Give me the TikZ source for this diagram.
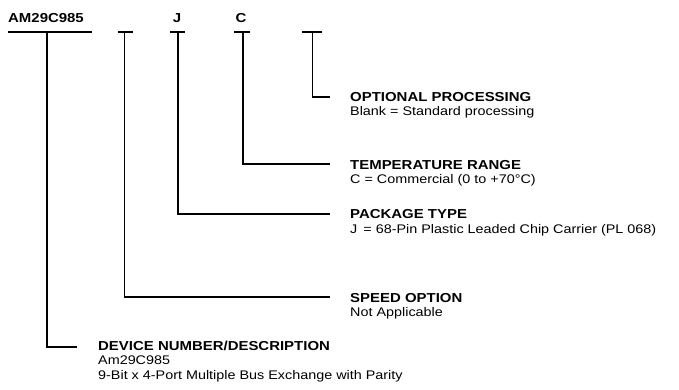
\documentclass[tikz,border=0pt]{standalone}
\usepackage{fontspec}
\setmainfont{Liberation Sans}[FakeStretch=1.15]
\begin{document}
\begin{tikzpicture}[x=1pt,y=-1pt,
  ln/.style={line width=1.3pt},
  hd/.style={anchor=base west, inner sep=0pt, font=\bfseries\fontsize{13}{15}\selectfont},
  bd/.style={anchor=base west, inner sep=0pt, font=\fontsize{12.5}{15}\selectfont},
  code/.style={anchor=base, inner sep=0pt, font=\bfseries\fontsize{13}{15}\selectfont}]
\useasboundingbox (0,0) rectangle (679,389);
% code letters
\node[code, anchor=base west] (am) at (8,22) {AM29C985};
\node[code] (j) at (177,22) {J};
\node[code] (c) at (241,22) {C};
% bars
\coordinate (b1l) at (8,32);   \coordinate (b1r) at (92,32);  \coordinate (b1m) at (47,32);
\coordinate (b2l) at (118,32); \coordinate (b2r) at (133,32); \coordinate (b2m) at (124.5,32);
\coordinate (b3l) at (170,32); \coordinate (b3r) at (185,32); \coordinate (b3m) at (178,32);
\coordinate (b4l) at (234,32); \coordinate (b4r) at (250,32); \coordinate (b4m) at (243,32);
\coordinate (b5l) at (302,32); \coordinate (b5r) at (322,32); \coordinate (b5m) at (312.5,32);
% line ends
\coordinate (e1) at (77,347);
\coordinate (e2) at (330,297);
\coordinate (e3) at (330,214);
\coordinate (e4) at (330,164);
\coordinate (e5) at (330,97);
% labels
\node[hd] (h5) at (350,101) {OPTIONAL PROCESSING};
\node[bd] (t5) at (350,115.5) {Blank = Standard processing};
\node[hd] (h4) at (350,169) {TEMPERATURE RANGE};
\node[bd] (t4) at (350,183.5) {C = Commercial (0 to +70°C)};
\node[hd] (h3) at (350,218.5) {PACKAGE TYPE};
\node[bd] (t3) at (350,233) {J \,= 68-Pin Plastic Leaded Chip Carrier (PL 068)};
\node[hd] (h2) at (350,302) {SPEED OPTION};
\node[bd] (t2) at (350,316.5) {Not Applicable};
\node[hd] (h1) at (98,350) {DEVICE NUMBER/DESCRIPTION};
\node[bd] (t1a) at (98,364.5) {Am29C985};
\node[bd] (t1b) at (98,379) {9-Bit x 4-Port Multiple Bus Exchange with Parity};
% connectors
\draw[ln] (b1l) -- (b1r);
\draw[ln] (b2l) -- (b2r);
\draw[ln] (b3l) -- (b3r);
\draw[ln] (b4l) -- (b4r);
\draw[ln] (b5l) -- (b5r);
\draw[ln] (b1m) |- (e1);
\draw[ln] (b2m) |- (e2);
\draw[ln] (b3m) |- (e3);
\draw[ln] (b4m) |- (e4);
\draw[ln] (b5m) |- (e5);
\end{tikzpicture}
\end{document}
